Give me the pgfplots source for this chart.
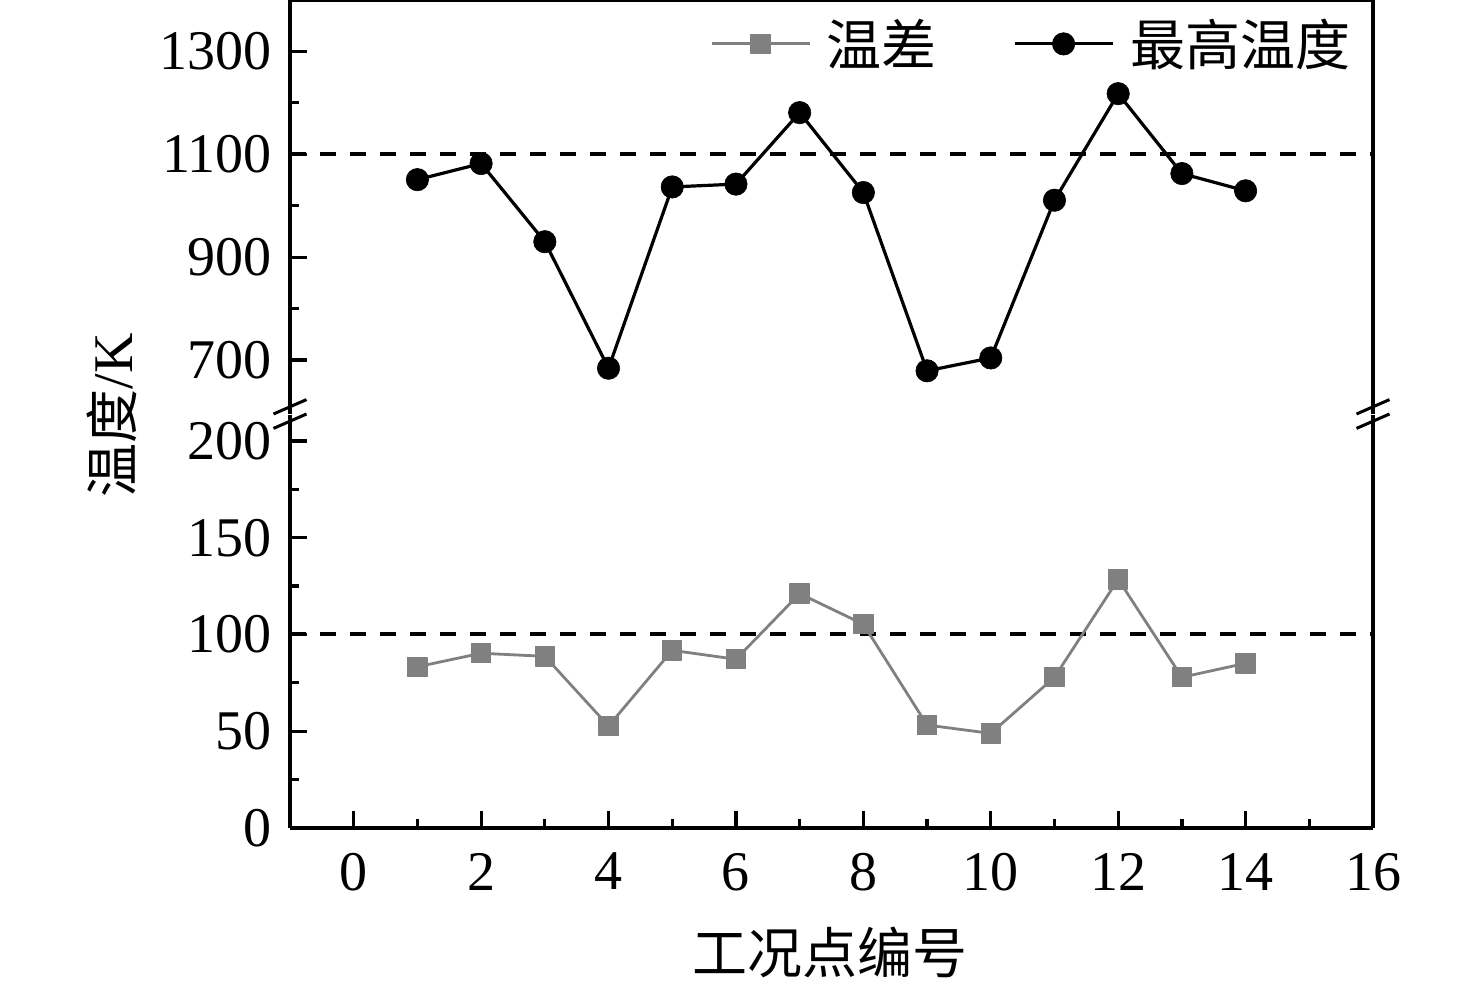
\documentclass[border=0pt]{standalone}
\usepackage{fontspec}
\setmainfont{Liberation Serif}
\newfontfamily\cjk{Noto Sans CJK SC}
\usepackage{pgfplots}
\pgfplotsset{compat=1.18}
\begin{document}
\begin{tikzpicture}
\path[use as bounding box] (0pt,0pt) rectangle (738pt,493.5pt);
\pgfplotsset{
  brk/.style={
    scale only axis, width=541.5pt,
    xmin=-1, xmax=16,
    axis line style={line width=1.6pt},
    every tick/.style={line width=1.6pt, black},
    major tick length=8.5pt, minor tick length=4.5pt,
    tick align=inside,
    ytick pos=left,
    /pgf/number format/assume math mode=true,
    /pgf/number format/1000 sep={},
    tick label style={font=\fontsize{28}{33}\selectfont},
    yticklabel style={xshift=-5.5pt},
    clip=false,
  },
  legend image code/.code={\draw[mark repeat=2,mark phase=2,#1] plot coordinates {(0pt,0pt) (24.5pt,0pt) (49pt,0pt)};},
}
\begin{axis}[brk, name=lower, at={(145pt,79.5pt)}, anchor=south west, height=206.5pt,
  ymin=0, ymax=213.4,
  axis x line*=bottom,
  xtick={0,2,...,16}, minor xtick={1,3,...,15},
  ytick={0,50,100,150,200}, minor ytick={25,75,125,175},
  xticklabel style={yshift=-9pt},
]
\addplot[black, line width=2pt, dash pattern=on 7.8pt off 7.2pt] coordinates {(-1,100) (16,100)};
\addplot[gray, line width=1.4pt, mark=square*, mark size=4.8pt, mark options={fill=gray, draw=gray, line width=0.6pt, line join=round}] coordinates {
(1,83.3) (2,90.3) (3,88.7) (4,52.7) (5,91.8) (6,87.2) (7,121.1) (8,105.3) (9,53.2) (10,48.9) (11,77.9) (12,128.5) (13,77.9) (14,85.1)};
\end{axis}
\begin{axis}[brk, name=upper, at={(145pt,286.5pt)}, anchor=south west, height=207pt,
  ymin=595, ymax=1400,
  axis x line*=top,
  xtick=\empty,
  ytick={700,900,1100,1300}, minor ytick={800,1000,1200},
  legend columns=2,
  legend style={draw=none, fill=none, inner sep=0pt,
    at={(axis description cs:0.983,0.894)}, anchor=east,
    font=\cjk\fontsize{27.5}{32}\selectfont,
    nodes={inner sep=2pt},
    /tikz/every odd column/.append style={column sep=6pt},
    /tikz/every even column/.append style={column sep=36pt}},
]
\addlegendimage{gray, line width=1.4pt, mark=square*, mark size=4.8pt, mark options={fill=gray, draw=gray, line width=0.6pt, line join=round}}
\addlegendentry{温差}
\addplot[black, line width=1.6pt, mark=*, mark size=5.6pt, mark options={fill=black, draw=black, line width=0.3pt}] coordinates {
(1,1050.7) (2,1082) (3,930) (4,684) (5,1036.5) (6,1042) (7,1181) (8,1025.6) (9,679) (10,704) (11,1010.7) (12,1217.9) (13,1062.5) (14,1029)};
\addlegendentry{最高温度}
\addplot[black, line width=2pt, dash pattern=on 7.8pt off 7.2pt, forget plot] coordinates {(-1,1100) (16,1100)};
\end{axis}
\foreach \xx in {145,686.5}{
  \draw[line width=1.5pt] (\xx pt-8.25pt,290.1pt-3.6pt) -- (\xx pt+8.25pt,290.1pt+3.6pt);
  \draw[line width=1.5pt] (\xx pt-8.25pt,282.9pt-3.6pt) -- (\xx pt+8.25pt,282.9pt+3.6pt);
}
\node[font=\cjk\fontsize{27.5}{32}\selectfont] at (415pt,17.5pt) {工况点编号};
\node[rotate=90] at (56pt,286pt) {{\cjk\fontsize{27}{32}\selectfont 温度}{\fontsize{28}{33}\selectfont /K}};
\end{tikzpicture}
\end{document}
